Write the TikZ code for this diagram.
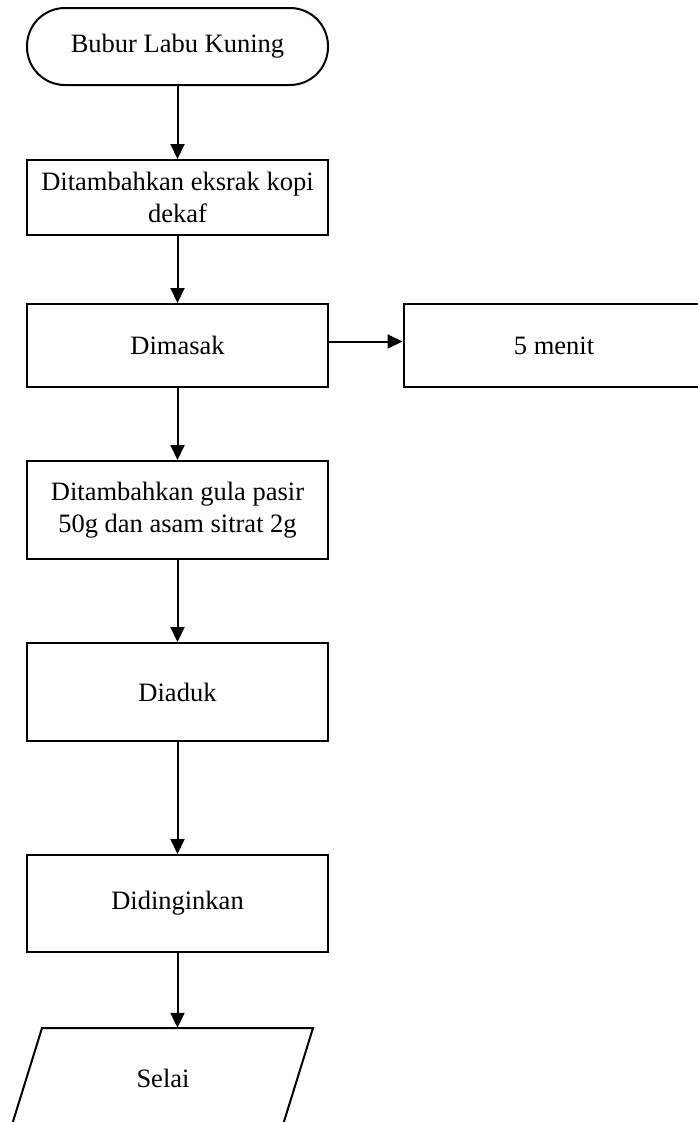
\documentclass[tikz,border=0pt]{standalone}
\usepackage{fontspec}
\setmainfont{Liberation Serif}
\usetikzlibrary{arrows.meta}
\begin{document}
\begin{tikzpicture}[x=1pt,y=-1pt,
  every node/.style={font=\fontsize{26.5}{31.5}\selectfont, inner sep=0pt, align=center},
  procbox/.style={draw, line width=2pt, minimum width=301pt},
  termbox/.style={draw, line width=2pt, minimum width=301pt, minimum height=77pt, rounded corners=38pt},
  flow/.style={line width=2pt, -{Triangle[length=15pt,width=14pt]}}
]
\useasboundingbox (0,0) rectangle (697,1122);
\node[termbox] (start) at (177.5,46.5) {Bubur Labu Kuning};
\node[procbox, minimum height=75pt] (kopi) at (177.5,197.5) {Ditambahkan eksrak kopi\\dekaf};
\node[procbox, minimum height=83pt] (masak) at (177.5,345.5) {Dimasak};
\node[procbox, minimum height=83pt] (menit) at (554,345.5) {5 menit};
\node[procbox, minimum height=98pt] (gula) at (177.5,510) {Ditambahkan gula pasir\\50g dan asam sitrat 2g};
\node[procbox, minimum height=98pt] (aduk) at (177.5,692) {Diaduk};
\node[procbox, minimum height=97pt] (dingin) at (177.5,903.5) {Didinginkan};
\node[minimum height=100pt, minimum width=240pt] (selai) at (163,1078) {Selai};
\draw[line width=2pt, line join=miter] (42,1028) -- (313,1028) -- (282,1128) -- (11,1128) -- cycle;
\draw[flow] (start) -- (kopi);
\draw[flow] (kopi) -- (masak);
\draw[flow] ([yshift=4pt]masak.east) -- ([yshift=4pt]menit.west);
\draw[flow] (masak) -- (gula);
\draw[flow] (gula) -- (aduk);
\draw[flow] (aduk) -- (dingin);
\draw[flow] (dingin.south) -- (dingin.south |- selai.north);
\end{tikzpicture}
\end{document}
